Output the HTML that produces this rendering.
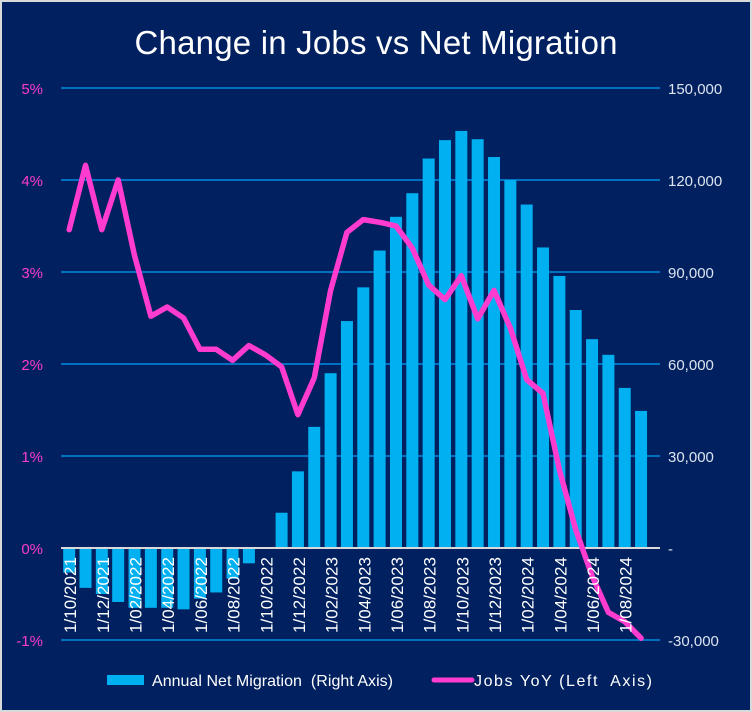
<!DOCTYPE html>
<html><head><meta charset="utf-8"><style>
body{margin:0;background:#fff;}
svg{display:block;font-family:"Liberation Sans",sans-serif;}
text{white-space:pre;}
</style></head><body>
<svg id="chart" width="752" height="712" viewBox="0 0 752 712">
<rect x="1" y="1" width="750" height="710" fill="#002060" stroke="#D9D9D9" stroke-width="2"/>
<text x="376" y="54" text-anchor="middle" fill="#fff" font-size="33" textLength="483">Change in Jobs vs Net Migration</text>
<g id="grid"></g><g id="bars"></g><g id="zero"></g><g id="line"></g><g id="labels"></g>
<g>
<rect x="107" y="675" width="37" height="10" fill="#00B0F0"/>
<text x="152" y="686" fill="#fff" font-size="16" textLength="241">Annual Net Migration  (Right Axis)</text>
<line x1="434" y1="680" x2="472" y2="680" stroke="#FF3CCF" stroke-width="5" stroke-linecap="round"/>
<text x="474" y="686" fill="#fff" font-size="16" textLength="178">Jobs YoY (Left  Axis)</text>
</g>
</svg>
<script>
const categories=["1/10/2021","1/11/2021","1/12/2021","1/01/2022","1/02/2022","1/03/2022","1/04/2022","1/05/2022","1/06/2022","1/07/2022","1/08/2022","1/09/2022","1/10/2022","1/11/2022","1/12/2022","1/01/2023","1/02/2023","1/03/2023","1/04/2023","1/05/2023","1/06/2023","1/07/2023","1/08/2023","1/09/2023","1/10/2023","1/11/2023","1/12/2023","1/01/2024","1/02/2024","1/03/2024","1/04/2024","1/05/2024","1/06/2024","1/07/2024","1/08/2024","1/09/2024"];
const migration=[-8000,-13000,-15000,-17600,-19500,-19500,-19500,-20000,-16500,-14500,-10000,-5000,0,11500,25000,39500,57000,74000,85000,97000,108000,115700,127000,133000,136000,133300,127500,120000,112000,98000,88700,77600,68100,63000,52200,44700];
const jobs=[3.46,4.16,3.46,4.0,3.18,2.52,2.62,2.5,2.16,2.16,2.04,2.2,2.1,1.97,1.45,1.85,2.8,3.43,3.57,3.54,3.5,3.26,2.86,2.7,2.96,2.49,2.8,2.39,1.83,1.68,0.85,0.2,-0.3,-0.7,-0.8,-0.98];
const leftTicks=[5,4,3,2,1,0,-1];
const leftTickLabels=["5%","4%","3%","2%","1%","0%","-1%"];
const rightTickLabels=["150,000","120,000","90,000","60,000","30,000","-","-30,000"];
const NS="http://www.w3.org/2000/svg";
const X0=61,STEP=16.34,Y0=548,PXPCT=92;
function xC(i){return X0+STEP*(i+0.5);}
function yL(v){return Y0-v*PXPCT;}
function yR(v){return Y0-v/30000*PXPCT;}
function mk(t,a,p){const e=document.createElementNS(NS,t);for(const k in a)e.setAttribute(k,a[k]);p.appendChild(e);return e;}
const grid=document.getElementById('grid'),bars=document.getElementById('bars'),zero=document.getElementById('zero'),line=document.getElementById('line'),labels=document.getElementById('labels');
leftTicks.forEach((t,i)=>{
 const y=yL(t);
 if(t!==0){const g=mk('line',{x1:61,x2:660,y1:y,y2:y,stroke:'#0070C0','stroke-width':2},grid);
 
 }
 const l=mk('text',{x:43,y:y+6,'text-anchor':'end',fill:'#FF3CCF','font-size':15},labels);l.textContent=leftTickLabels[i];
 
 
 const r=mk('text',{x:668,y:y+6,fill:'#DDE4F0','font-size':15},labels);r.textContent=rightTickLabels[i];
 
 
});
migration.forEach((v,i)=>{
 const y=yR(v),top=Math.min(y,Y0),h=Math.abs(y-Y0);
 const b=mk('rect',{x:xC(i)-6,y:top,width:12,height:h,fill:'#00B0F0'},bars);
 
 
});
const z=mk('line',{x1:61,x2:660,y1:Y0,y2:Y0,stroke:'#D9D9D9','stroke-width':2},zero);


categories.forEach((c,i)=>{
 if(i%2)return;
 const x=xC(i)+7,y=557;
 const t=mk('text',{x:x,y:y,fill:'#fff','font-size':17,'text-anchor':'end',textLength:76,transform:'rotate(-90 '+x+' '+y+')'},labels);
 t.textContent=c;
 
 
});
const pts=jobs.map((v,i)=>xC(i).toFixed(1)+','+yL(v).toFixed(1)).join(' ');
const pl=mk('polyline',{points:pts,fill:'none',stroke:'#FF3CCF','stroke-width':5.5,'stroke-linejoin':'round','stroke-linecap':'round'},line);


</script>
</body></html>
